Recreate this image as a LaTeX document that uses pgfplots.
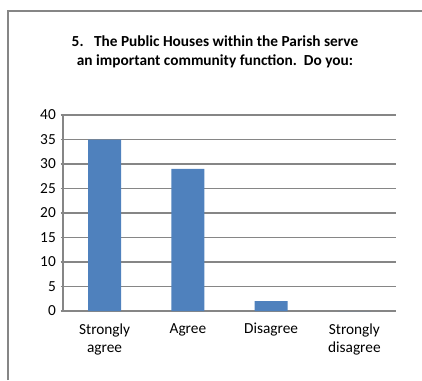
\documentclass[border=0pt]{standalone}
\usepackage{pgfplots}
\pgfplotsset{compat=1.18}
\usepackage{fontspec}
\setmainfont{Carlito}
\definecolor{barblue}{RGB}{79,129,189}
\definecolor{gridgray}{RGB}{134,134,134}
\begin{document}
\begin{tikzpicture}[x=0.75pt,y=0.75pt]
\useasboundingbox (0,0) rectangle (422,380);
\draw[gridgray, line width=1.5pt] (8,0) -- (8,369) -- (422,369);
\node[font=\bfseries\fontsize{11.5}{14.25}\selectfont, align=center] at (215,328) {5.\ \ \ The Public Houses within the Parish serve\\an important community function.\ \ Do you:};
\begin{axis}[
  at={(47.25pt,51.75pt)}, anchor=south west,
  scale only axis, width=249.75pt, height=147pt,
  xmin=-0.5, xmax=3.5, ymin=0, ymax=40,
  ytick={0,5,...,40},
  xtick={0,1,2,3},
  xticklabels={{Strongly\\agree},Agree,Disagree,{Strongly\\disagree}},
  xticklabel style={align=center, font=\fontsize{11.5}{13.5}\selectfont, yshift=-2pt},
  yticklabel style={font=\fontsize{11.5}{13}\selectfont},
  /pgf/number format/assume math mode=true,
  major x tick style={draw=none},
  extra x ticks={-0.5,0.5,1.5,2.5,3.5},
  extra x tick labels={},
  extra x tick style={major tick length=3.75pt, tick align=outside, tick style={draw=gridgray, line width=1pt}, grid=none},
  major tick length=3.75pt,
  tick align=outside,
  ymajorgrids,
  grid style={gridgray, line width=1pt},
  axis x line=bottom, axis y line=left,
  axis line style={-, gridgray, line width=1pt},
  y tick style={gridgray, line width=1pt},
  ybar, bar width=24.75pt,
]
\addplot[fill=barblue, draw=none] coordinates {(0,35) (1,29) (2,2) (3,0)};
\end{axis}
\end{tikzpicture}
\end{document}
